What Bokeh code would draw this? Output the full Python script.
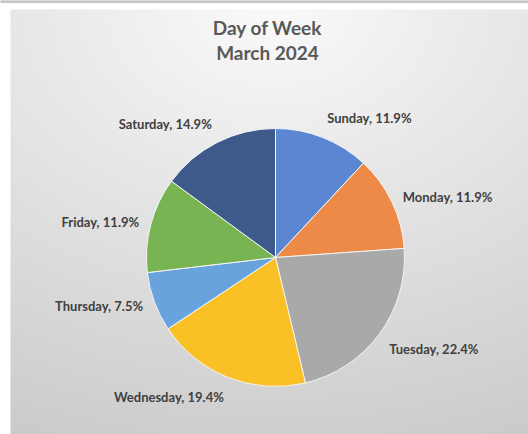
import numpy as np
from bokeh.plotting import figure
from bokeh.models import ColumnDataSource, Range1d, Label
from bokeh.core.properties import value
from bokeh.embed import file_html
from bokeh.resources import INLINE

# ---- data ----
days = ["Sunday", "Monday", "Tuesday", "Wednesday", "Thursday", "Friday", "Saturday"]
counts = [8, 8, 15, 13, 5, 8, 10]
colors = ["#5B87D2", "#EE8A47", "#A9A9A9", "#FAC127", "#69A3DD", "#78B452", "#3D5A8B"]
title_lines = ["Day of Week", "March 2024"]

W, H = 528, 434
p = figure(width=W, height=H, output_backend="svg", toolbar_location=None,
           x_range=Range1d(0, W), y_range=Range1d(0, H), min_border=0)
p.axis.visible = False
p.grid.visible = False
p.outline_line_color = None
p.background_fill_color = "white"
p.border_fill_color = "white"

# ---- background gradient (decoration) ----
x0, y0, bw, bh = 10, 0, W - 10, H - 9
gx = np.arange(bw)
gy = np.arange(bh)  # row 0 = bottom
X, Y = np.meshgrid(gx, gy)
ytop = (bh - 1 - Y)  # distance from top
d = np.sqrt(((X + x0 - 270) / 600.0) ** 2 + (ytop / 430.0) ** 2)
v = np.clip(250 - 44 * d, 0, 255).astype(np.uint32)
img = (255 << 24) | (v << 16) | (v << 8) | v
p.image_rgba(image=[img.astype(np.uint32)], x=x0, y=y0, dw=bw, dh=bh)
p.quad(left=0, right=W, bottom=H - 2, top=H, color="#c4c4c4")

# ---- pie ----
cx, cy, R = 275, H - 257, 129
total = sum(counts)
fr = np.array(counts) / total
cum = np.concatenate([[0], np.cumsum(fr)])
start = np.pi / 2 - cum[:-1] * 2 * np.pi
end = np.pi / 2 - cum[1:] * 2 * np.pi
mid = (cum[:-1] + cum[1:]) / 2 * 2 * np.pi  # clockwise from top

src = ColumnDataSource(dict(start=start, end=end, color=colors))
p.wedge(x=cx, y=cy, radius=R, start_angle="start", end_angle="end", direction="clock",
        fill_color="color", line_color="#f4f4f4", line_width=1, source=src)

# ---- labels ----
rl = R + 12
lx = cx + rl * np.sin(mid)
ly = cy + rl * np.cos(mid)
align = ["left" if s > 0 else "right" for s in np.sin(mid)]
base = []
for c in np.cos(mid):
    if abs(c) < 0.5:
        base.append("middle")
    elif c > 0:
        base.append("bottom")
    else:
        base.append("top")
texts = [f"{d}, {c / total * 100:.1f}%" for d, c in zip(days, counts)]
lsrc = ColumnDataSource(dict(x=lx, y=ly, text=texts, align=align, base=base))
p.text(x="x", y="y", text="text", text_align="align", text_baseline="base",
       text_font=value("Lato"), text_font_style="bold", text_font_size="13px",
       text_color="#404040", source=lsrc)

# ---- title ----
for i, t in enumerate(title_lines):
    p.add_layout(Label(x=267, y=H - 27 - 25 * i, text=t, text_align="center",
                       text_baseline="middle", text_font="Lato", text_font_style="bold",
                       text_font_size="19px", text_color="#595959"))

open("out.html", "w").write(file_html(p, INLINE))
